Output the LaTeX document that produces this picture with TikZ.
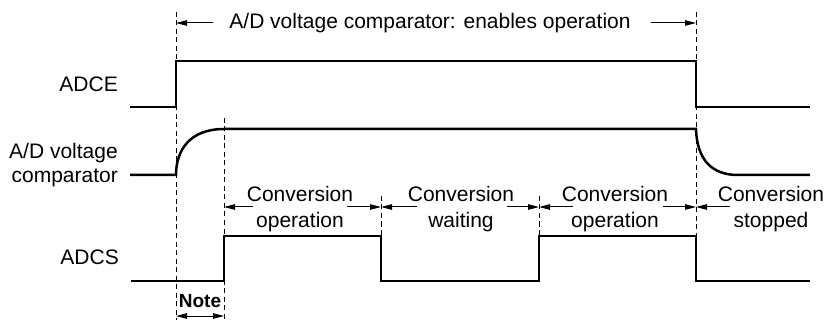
\documentclass[tikz,border=0pt]{standalone}
\usepackage{fontspec}
\setmainfont{Liberation Sans}
\usetikzlibrary{arrows.meta}
\begin{document}
\begin{tikzpicture}[x=1pt,y=-1pt,
  sig/.style={line width=2.5pt, line join=miter},
  guide/.style={line width=0.9pt, dash pattern=on 5pt off 3.5pt},
  tip/.style={},
  dim/.style={line width=1pt, -{Triangle[length=11pt,width=5.5pt]}},
  dimboth/.style={line width=1pt, {Triangle[length=11pt,width=5.5pt]}-{Triangle[length=11pt,width=5.5pt]}},
  lbl/.style={font=\fontsize{21}{25}\selectfont, inner sep=0pt, anchor=base},
  rlbl/.style={lbl, anchor=base east},
  notelbl/.style={font=\fontsize{19}{22}\selectfont\bfseries, inner sep=0pt, anchor=base}]
\useasboundingbox (0,0) rectangle (826,320);

% guide lines
\draw[guide] (176,12) -- (176,320);
\draw[guide] (224,118) -- (224,320);
\draw[guide] (381,196) -- (381,236);
\draw[guide] (539,196) -- (539,236);
\draw[guide] (696,12) -- (696,236);

% signals
\draw[sig] (130,107) -- (176,107) -- (176,61) -- (696,61) -- (696,107) -- (810,107);
\draw[sig] (130,175) -- (176,175) .. controls (176,150) and (190,129) .. (224,129) -- (696,129) .. controls (697,160) and (712,175) .. (738,175) -- (810,175);
\draw[sig] (131,281) -- (224,281) -- (224,236) -- (381,236) -- (381,281) -- (539,281) -- (539,236) -- (696,236) -- (696,281) -- (810,281);

% signal labels
\node[rlbl] (adce) at (118,92) {ADCE};
\node[rlbl] (cmpa) at (118,159) {A/D voltage};
\node[rlbl] (cmpb) at (118,183) {comparator};
\node[rlbl] (adcs) at (119,264) {ADCS};

% top dimension
\node[lbl] (toptxt) at (430,29) {A/D voltage comparator: enables operation};
\coordinate (tl) at (176,23);
\coordinate (tr) at (696,23);
\coordinate (tla) at (213,23);
\coordinate (tra) at (651,23);
\draw[dim] (tla) -- (tl);
\draw[dim] (tra) -- (tr);

% middle dimensions
\coordinate (m1) at (224,207);
\coordinate (m2) at (381,207);
\coordinate (m3) at (539,207);
\coordinate (m4) at (696,207);
\coordinate (s1l) at (253,207);
\coordinate (s1r) at (347,207);
\coordinate (s2l) at (417,207);
\coordinate (s2r) at (507,207);
\coordinate (s3l) at (573,207);
\coordinate (s3r) at (663,207);
\coordinate (s4l) at (730,207);
\draw[dim] (s1l) -- (m1);
\draw[dim] (s1r) -- (m2);
\draw[dim] (s2l) -- (m2);
\draw[dim] (s2r) -- (m3);
\draw[dim] (s3l) -- (m3);
\draw[dim] (s3r) -- (m4);
\draw[dim] (s4l) -- (m4);

\node[lbl] (c1a) at (300,202) {Conversion};
\node[lbl] (c1b) at (300,227) {operation};
\node[lbl] (c2a) at (461,202) {Conversion};
\node[lbl] (c2b) at (461,227) {waiting};
\node[lbl] (c3a) at (615,202) {Conversion};
\node[lbl] (c3b) at (615,227) {operation};
\node[lbl] (c4a) at (771,202) {Conversion};
\node[lbl] (c4b) at (771,227) {stopped};

% note
\node[notelbl] (note) at (200,307) {Note};
\coordinate (nl) at (176,316);
\coordinate (nr) at (224,316);
\draw[dimboth] (nl) -- (nr);
\end{tikzpicture}
\end{document}
